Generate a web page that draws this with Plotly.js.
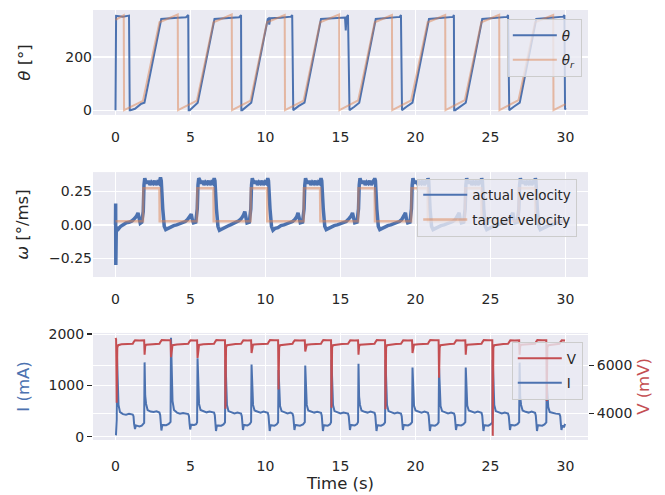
<!DOCTYPE html>
<html>
<head>
<meta charset="utf-8">
<script src="https://cdn.plot.ly/plotly-3.0.1.min.js"></script>
<style>html,body{margin:0;padding:0;background:#fff;}#chart{width:665px;height:495px;}</style>
</head>
<body>
<div id="chart"></div>
<script>
// ---------- Panel 1: angle ----------
const thetaT = [0,0.04,0.5,0.9,0.95,
  1.0,1.3,1.72,1.93,3.05,3.9,4.7,4.85,4.88,
  4.95,5.2,5.48,6.6,7.5,8.25,8.37,8.39,
  8.45,8.75,9.05,10.15,10.2,10.25,10.32,11.0,11.7,11.78,11.8,
  11.85,12.2,12.6,13.7,14.5,15.3,15.35,15.4,15.5,15.56,
  15.6,15.9,16.25,17.35,18.2,18.95,19.03,19.05,
  19.1,19.4,19.8,20.9,21.8,22.5,22.56,22.58,
  22.65,22.95,23.35,24.45,25.3,26.1,26.17,26.2,
  26.25,26.55,26.95,28.05,28.9,29.85,29.93,29.97,30.0];
const thetaV = [0,355,352,356,0,
  0,5,24,28,343,347,350,358,0,
  0,12,28,343,347,350,358,0,
  0,14,28,343,345,322,346,348,352,358,0,
  0,15,28,343,347,349,300,349,358,0,
  0,12,28,343,347,351,358,0,
  0,13,28,343,347,351,358,0,
  0,13,28,343,347,351,358,0,
  0,13,28,343,347,352,358,2,8];
const refT = [0,0.55,0.57, 1.83,2.93,4.15,4.17, 5.43,6.53,7.75,7.77, 9.0,10.1,11.28,11.3,
  12.54,13.64,14.91,14.93, 16.18,17.28,18.43,18.45, 19.71,20.81,21.98,22.0,
  23.29,24.39,25.58,25.6, 26.87,27.97,29.18,29.2, 30.0];
const refV = [340,357,0, 35,331,360,0, 36,331,360,0, 36,331,358,0,
  36,331,360,0, 37,331,358,0, 37,331,358,0,
  38,331,359,0, 38,331,358,0, 23];

// ---------- Panel 2: velocity ----------
const velT = [0,0.01,0.02,0.03,0.05,0.1,0.2,0.35,0.5,0.7,0.9,1.1,1.25,1.4,1.5,1.57,1.65,1.75,1.85,
  1.9,1.95,2.0,2.1,2.2,2.3,2.4,2.5,2.6,2.7,2.8,2.9,3.0,3.05,
  3.15,3.25,3.35,3.5,3.68,3.88,4.08,4.28,4.48,4.65,4.8,4.95,5.05,5.12,5.2,5.35,5.45,
  5.5,5.55,5.6,5.7,5.8,5.9,6.0,6.1,6.2,6.3,6.4,6.5,6.58,6.63,
  6.73,6.83,6.93,7.08,7.26,7.46,7.66,7.86,8.06,8.22,8.37,8.52,8.62,8.69,8.77,8.92,9.02,
  9.07,9.12,9.17,9.27,9.37,9.47,9.57,9.67,9.77,9.87,9.97,10.07,10.15,10.2,
  10.3,10.4,10.5,10.65,10.83,11.03,11.23,11.43,11.63,11.8,11.95,12.08,12.17,12.24,12.32,12.47,12.57,
  12.62,12.67,12.72,12.82,12.92,13.02,13.12,13.22,13.32,13.42,13.52,13.62,13.7,13.75,
  13.85,13.95,14.05,14.2,14.38,14.58,14.78,14.98,15.18,15.38,15.55,15.7,15.8,15.87,15.95,16.1,16.2,
  16.25,16.3,16.35,16.45,16.55,16.65,16.75,16.85,16.95,17.05,17.15,17.22,17.28,17.33,
  17.42,17.52,17.62,17.77,17.95,18.15,18.35,18.55,18.75,18.92,19.08,19.22,19.33,19.4,19.48,19.63,19.73,
  19.78,19.83,19.88,19.98,20.08,20.18,20.28,20.38,20.48,20.58,20.68,20.78,20.83,20.88,
  20.97,21.07,21.17,21.32,21.5,21.7,21.9,22.1,22.3,22.48,22.65,22.8,22.91,22.98,23.06,23.21,23.31,
  23.36,23.41,23.46,23.56,23.66,23.76,23.86,23.96,24.06,24.16,24.26,24.36,24.41,24.46,
  24.55,24.65,24.75,24.9,25.08,25.28,25.48,25.68,25.88,26.06,26.23,26.38,26.49,26.56,26.64,26.79,26.89,
  26.94,26.99,27.04,27.14,27.24,27.34,27.44,27.54,27.64,27.74,27.84,27.94,27.99,28.03,
  28.12,28.22,28.32,28.47,28.65,28.85,29.05,29.25,29.45,29.65,29.85,30.0];
const velV = [0.0,0.16,-0.30,0.0,-0.05,-0.02,-0.03,-0.01,0.0,0.015,0.02,0.03,0.045,0.065,0.09,0.04,0.012,0.02,0.1,
  0.30,0.35,0.33,0.31,0.33,0.30,0.32,0.31,0.33,0.30,0.32,0.31,0.355,0.33,
  0.12,-0.01,-0.035,-0.025,-0.02,-0.005,0.0,0.01,0.015,0.025,0.04,0.06,0.08,0.04,0.015,0.02,0.12,
  0.30,0.35,0.34,0.31,0.33,0.30,0.32,0.31,0.33,0.30,0.32,0.31,0.35,0.33,
  0.12,-0.01,-0.04,-0.03,-0.02,-0.01,0.0,0.01,0.02,0.03,0.045,0.07,0.10,0.05,0.015,0.02,0.12,
  0.30,0.35,0.33,0.31,0.33,0.30,0.32,0.31,0.33,0.30,0.32,0.31,0.35,0.33,
  0.12,-0.01,-0.04,-0.025,-0.02,-0.005,0.0,0.01,0.015,0.025,0.04,0.06,0.09,0.04,0.015,0.02,0.12,
  0.30,0.35,0.33,0.31,0.33,0.30,0.32,0.31,0.33,0.30,0.32,0.31,0.35,0.33,
  0.12,-0.01,-0.035,-0.025,-0.02,-0.005,0.0,0.01,0.015,0.025,0.045,0.065,0.09,0.04,0.015,0.02,0.12,
  0.30,0.35,0.33,0.31,0.33,0.30,0.32,0.31,0.33,0.30,0.32,0.31,0.35,0.33,
  0.12,-0.01,-0.035,-0.025,-0.02,-0.005,0.0,0.01,0.015,0.025,0.04,0.065,0.09,0.04,0.015,0.02,0.12,
  0.30,0.35,0.33,0.31,0.33,0.30,0.32,0.31,0.33,0.30,0.32,0.31,0.35,0.33,
  0.12,-0.01,-0.035,-0.025,-0.02,-0.005,0.0,0.01,0.015,0.025,0.04,0.065,0.09,0.04,0.015,0.02,0.12,
  0.30,0.35,0.33,0.31,0.33,0.30,0.32,0.31,0.33,0.30,0.32,0.31,0.35,0.33,
  0.12,-0.01,-0.035,-0.025,-0.02,-0.005,0.0,0.01,0.015,0.025,0.04,0.065,0.09,0.04,0.015,0.02,0.12,
  0.30,0.35,0.33,0.31,0.33,0.30,0.32,0.31,0.33,0.30,0.32,0.31,0.35,0.33,
  0.12,-0.01,-0.035,-0.025,-0.02,-0.005,0.0,0.01,0.015,0.025,0.03,0.035];
const tgtT = [0,1.83,1.85,2.93,2.95,5.43,5.45,6.53,6.55,9.0,9.02,10.1,10.12,12.54,12.56,13.64,13.66,
  16.18,16.2,17.28,17.3,19.71,19.73,20.81,20.83,23.29,23.31,24.39,24.41,26.87,26.89,27.97,27.99,30.0];
const tgtV = [0.027,0.027,0.275,0.275,0.027,0.027,0.275,0.275,0.027,0.027,0.275,0.275,0.027,0.027,0.275,0.275,0.027,
  0.027,0.275,0.275,0.027,0.027,0.275,0.275,0.027,0.027,0.275,0.275,0.027,0.027,0.275,0.275,0.027,0.027];

// ---------- Panel 3: current and voltage ----------
const curT = [0.03,0.06,0.08,
  0.1,0.14,0.2,0.3,0.5,0.7,0.9,1.15,1.2,1.24,1.3,1.36,1.6,1.75,1.91,
  1.94,1.98,2.04,2.14,2.34,2.54,2.74,2.93,2.98,3.02,3.06,3.12,3.38,3.55,3.67,
  3.7,3.74,3.8,3.9,4.1,4.3,4.5,4.85,4.9,4.94,4.98,5.04,5.25,5.38,5.44,
  5.47,5.51,5.57,5.67,5.87,6.07,6.27,6.57,6.62,6.66,6.7,6.76,7.05,7.2,7.3,
  7.33,7.37,7.43,7.53,7.73,7.93,8.13,8.37,8.42,8.46,8.5,8.56,8.8,8.95,9.04,
  9.07,9.11,9.17,9.27,9.47,9.67,9.87,10.15,10.2,10.24,10.28,10.34,10.6,10.75,10.84,
  10.87,10.91,10.97,11.07,11.27,11.47,11.67,11.8,11.85,11.89,11.93,11.99,12.3,12.5,12.62,
  12.65,12.69,12.75,12.85,13.05,13.25,13.45,13.7,13.75,13.79,13.83,13.89,14.15,14.3,14.37,
  14.4,14.44,14.5,14.6,14.8,15.0,15.2,15.5,15.55,15.59,15.63,15.69,15.95,16.1,16.17,
  16.2,16.24,16.3,16.4,16.6,16.8,17.0,17.27,17.32,17.36,17.4,17.46,17.7,17.87,17.97,
  18.0,18.04,18.1,18.2,18.4,18.6,18.8,19.03,19.08,19.12,19.16,19.22,19.5,19.66,19.77,
  19.8,19.84,19.9,20.0,20.2,20.4,20.6,20.83,20.88,20.92,20.96,21.02,21.3,21.45,21.54,
  21.57,21.61,21.67,21.77,21.97,22.17,22.37,22.57,22.62,22.66,22.7,22.76,23.05,23.2,23.32,
  23.35,23.39,23.45,23.55,23.75,23.95,24.15,24.4,24.45,24.49,24.53,24.59,24.85,25.0,25.12,
  25.15,25.19,25.25,25.35,25.55,25.75,25.95,26.17,26.22,26.26,26.3,26.36,26.62,26.8,26.91,
  26.94,26.98,27.04,27.14,27.34,27.54,27.74,27.97,28.02,28.06,28.1,28.16,28.45,28.6,28.72,
  28.75,28.79,28.85,28.95,29.15,29.35,29.6,29.65,29.69,29.73,29.79,29.92,29.97];
const curV = [25,320,330,
  1550,850,620,480,440,430,445,430,400,250,150,220,200,215,270,
  1450,800,640,520,490,480,495,470,420,260,120,230,225,250,290,
  1930,1000,700,520,470,450,460,440,400,250,140,235,230,245,280,
  1530,850,640,520,490,475,490,470,420,260,110,220,215,240,280,
  1500,800,620,500,470,455,470,450,400,250,130,230,220,245,285,
  1410,780,620,510,485,470,490,465,410,250,110,225,215,240,280,
  1300,760,600,500,470,455,470,450,400,250,130,230,215,240,285,
  1390,780,620,510,485,470,485,465,410,250,110,225,215,240,280,
  1500,800,620,500,470,455,470,450,400,250,130,230,220,245,285,
  1425,780,620,510,485,470,490,465,410,250,110,225,215,240,280,
  1500,800,620,500,470,455,470,450,400,250,130,230,220,245,285,
  1350,760,610,510,485,470,490,465,410,250,110,225,215,240,280,
  1350,760,600,500,470,455,470,450,400,250,130,230,220,245,285,
  1350,760,610,510,485,470,490,465,410,250,110,225,215,240,280,
  1500,800,620,500,470,455,470,450,400,250,130,230,220,245,285,
  1445,780,620,510,485,470,490,465,410,250,110,225,215,240,280,
  1050,700,580,480,460,450,440,400,250,130,210,200,250];
const voltT = [0,0.04,
  0.08,0.12,0.18,0.4,0.8,1.15,1.22,1.3,1.6,1.91,
  1.94,1.98,2.04,2.3,2.6,2.93,3.0,3.08,3.4,3.67,
  3.7,3.74,3.8,4.1,4.5,4.85,4.92,5.0,5.3,5.44,
  5.47,5.51,5.57,5.85,6.2,6.57,6.64,6.72,7.0,7.3,
  7.33,7.37,7.43,7.7,8.0,8.37,8.44,8.52,8.8,9.04,
  9.07,9.11,9.17,9.45,9.8,10.15,10.22,10.3,10.6,10.84,
  10.87,10.91,10.97,11.25,11.55,11.8,11.87,11.95,12.3,12.62,
  12.65,12.69,12.75,13.05,13.4,13.7,13.77,13.85,14.1,14.37,
  14.4,14.44,14.5,14.8,15.1,15.5,15.57,15.65,15.95,16.17,
  16.2,16.24,16.3,16.6,16.95,17.27,17.34,17.42,17.7,17.97,
  18.0,18.04,18.1,18.4,18.7,19.03,19.1,19.18,19.5,19.77,
  19.8,19.84,19.9,20.2,20.5,20.83,20.9,20.98,21.3,21.54,
  21.57,21.61,21.67,21.95,22.3,22.57,22.64,22.72,23.05,23.32,
  23.35,23.39,23.45,23.75,24.1,24.4,24.47,24.55,24.85,25.12,
  25.15,25.19,25.25,25.55,25.85,26.17,26.24,26.32,26.62,26.91,
  26.94,26.98,27.04,27.34,27.65,27.97,28.04,28.12,28.45,28.72,
  28.75,28.79,28.85,29.15,29.4,29.6,29.67,29.75,29.97];
const voltV = [7150,7100,
  4455,6750,6850,6890,6900,6910,6990,7050,7040,7050,
  6455,6800,6870,6890,6900,6910,6990,7060,7050,7050,
  6350,6750,6850,6880,6900,6910,6990,7050,7040,7050,
  6320,6750,6860,6890,6900,6910,6990,7060,7050,7050,
  4200,6750,6850,6880,6900,6910,6990,7050,7040,7050,
  6525,6800,6870,6890,6900,6910,6990,7060,7050,7050,
  5000,6750,6850,6880,6900,6910,6990,7050,7040,7050,
  6590,6800,6870,6890,6900,6910,6990,7060,7050,7050,
  4240,6750,6850,6880,6900,6910,6990,7050,7040,7050,
  6455,6800,6870,6890,6900,6910,6990,7060,7050,7050,
  4180,6750,6850,6880,6900,6910,6990,7050,7040,7050,
  6525,6800,6870,6890,6900,6910,6990,7060,7050,7050,
  5490,6750,6850,6880,6900,6910,6990,7050,7040,7050,
  6455,6800,6870,6890,6900,6910,6990,7060,7050,7050,
  3072,6750,6850,6880,6900,6910,6990,7050,7040,7050,
  6450,6800,6870,6890,6900,6910,6990,7060,7050,7050,
  4520,6750,6850,6880,6900,6910,6990,7050,7040];

// ---------- ticks ----------
const timeTicks = [0,5,10,15,20,25,30];
const thetaTicks = [0,200];
const velTicks = [-0.25,0,0.25];
const curTicks = [0,1000,2000];
const voltTicks = [4000,6000];

const BLUE = '#4C72B0', ORANGE = 'rgba(221,132,82,0.5)', RED = '#C44E52';
const TXT = '#262626', FONT = '"DejaVu Sans", sans-serif';
const TICK = 14, LAB = 16.5, LEG = 13.5;

const traces = [
  {x: thetaT, y: thetaV, xaxis:'x', yaxis:'y', mode:'lines', name:'<i>θ</i>', legendgroup:'a',
   line:{color:BLUE, width:2}, legend:'legend'},
  {x: refT, y: refV, xaxis:'x', yaxis:'y', mode:'lines', name:'<i>θ<sub>r</sub></i>', legendgroup:'b',
   line:{color:ORANGE, width:2}, legend:'legend'},
  {x: velT, y: velV, xaxis:'x2', yaxis:'y2', mode:'lines', name:'actual velocity', showlegend:false,
   line:{color:BLUE, width:3.5}, legend:'legend2'},
  {x: [null], y: [null], xaxis:'x2', yaxis:'y2', mode:'lines', name:'actual velocity', legendgroup:'c',
   line:{color:BLUE, width:2}, legend:'legend2'},
  {x: tgtT, y: tgtV, xaxis:'x2', yaxis:'y2', mode:'lines', name:'target velocity', legendgroup:'d',
   line:{color:ORANGE, width:2.5}, legend:'legend2'},
  {x: voltT, y: voltV, xaxis:'x3', yaxis:'y4', mode:'lines', name:'V', legendgroup:'e',
   line:{color:RED, width:2}, legend:'legend3'},
  {x: curT, y: curV, xaxis:'x3', yaxis:'y3', mode:'lines', name:'I', legendgroup:'f',
   line:{color:BLUE, width:2}, legend:'legend3'}
];

function xax(anchor, extra) {
  return Object.assign({anchor: anchor, domain:[0,1], range:[-1.5,31.5], tickvals: timeTicks,
    showgrid:true, gridcolor:'#ffffff', gridwidth:1.2, zeroline:false, showline:false, ticks:'',
    ticklabelstandoff:12,
    tickfont:{size:TICK, color:TXT, family:FONT}}, extra || {});
}
function yax(domain, range, tickvals, title, standoff, extra) {
  return Object.assign({domain: domain, range: range, tickvals: tickvals,
    showgrid:true, gridcolor:'#ffffff', gridwidth:1.2, zeroline:false, showline:false, ticks:'',
    tickfont:{size:TICK, color:TXT, family:FONT},
    title:{text:title, standoff:standoff, font:{size:LAB, color:TXT, family:FONT}}}, extra || {});
}
const legendBase = {bgcolor:'rgba(234,234,242,0.8)', bordercolor:'#cccccc', borderwidth:1,
  font:{size:LEG, color:TXT, family:FONT}, xanchor:'left', yanchor:'top',
  traceorder:'grouped', tracegroupgap:4, itemwidth:44};

const layout = {
  width:665, height:495,
  margin:{l:93, r:77, t:10, b:55},
  paper_bgcolor:'#ffffff', plot_bgcolor:'#EAEAF2',
  font:{family:FONT, color:TXT},
  showlegend:true,
  xaxis: xax('y'),
  xaxis2: xax('y2'),
  xaxis3: xax('y3', {ticklabelstandoff:16, title:{text:'Time (s)', standoff:2, font:{size:LAB, color:TXT, family:FONT}}}),
  yaxis: yax([0.756,1], [-18,377], thetaTicks, '<i>θ</i> [°]', 30, {anchor:'x'}),
  yaxis2: yax([0.379,0.623], [-0.39,0.395], velTicks, '<i>ω</i> [°/ms]', 16, {anchor:'x2', tickformat:'.2f'}),
  yaxis3: yax([0,0.249], [-65,2025], curTicks, 'I (mA)', 14, {anchor:'x3', ticks:'outside', ticklen:5, tickwidth:1.5, tickcolor:TXT}),
  yaxis4: {overlaying:'y3', anchor:'x3', side:'right', range:[2900,7360], tickvals: voltTicks,
    showgrid:true, gridcolor:'#ffffff', gridwidth:1.2, zeroline:false, showline:false,
    ticks:'outside', ticklen:5, tickwidth:1.5, tickcolor:TXT,
    tickfont:{size:TICK, color:TXT, family:FONT},
    title:{text:'V (mV)', standoff:6, font:{size:LAB, color:RED, family:FONT}}},
  legend: Object.assign({}, legendBase, {x:0.836, y:0.979, entrywidth:70}),
  legend2: Object.assign({}, legendBase, {x:0.655, y:0.608}),
  legend3: Object.assign({}, legendBase, {x:0.846, y:0.228, entrywidth:65})
};
layout.yaxis3.title.font.color = BLUE;

Plotly.newPlot('chart', traces, layout, {staticPlot:true, displayModeBar:false});
</script>
</body>
</html>
